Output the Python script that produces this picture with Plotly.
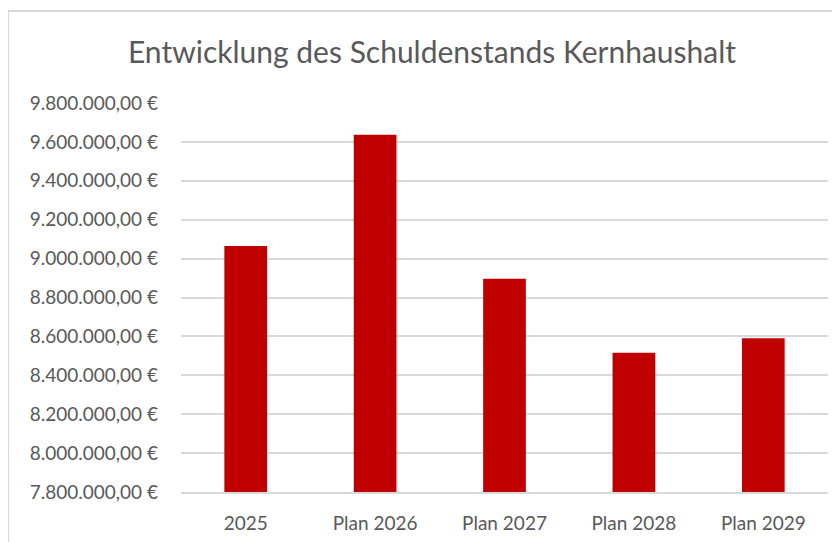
import plotly.graph_objects as go

categories = ["2025", "Plan 2026", "Plan 2027", "Plan 2028", "Plan 2029"]
debt_values = [9065000, 9637000, 8897000, 8516000, 8590000]
y_tickvals = [7800000, 8000000, 8200000, 8400000, 8600000, 8800000,
              9000000, 9200000, 9400000, 9600000, 9800000]


def euro(v):
    s = f"{v:,.2f}".replace(",", "X").replace(".", ",").replace("X", ".")
    return s + "\u00a0€"


y_ticktext = [euro(v) for v in y_tickvals]

FONT = "Lato"
GRAY = "#595959"

# The page body has an 8px margin; size the figure so it fits the 840x542 window.
W, H = 832, 534

fig = go.Figure(go.Bar(
    x=categories, y=debt_values,
    marker=dict(color="#C00000", line=dict(width=0)),
))

fig.update_layout(
    width=W, height=H,
    margin=dict(l=173, r=12, t=95, b=50),
    paper_bgcolor="white", plot_bgcolor="white",
    bargap=0.67,
    showlegend=False,
    title=dict(text="Entwicklung des Schuldenstands Kernhaushalt",
               x=0.5 + 8 / W, xanchor="center", y=1 - 44 / H, yanchor="middle",
               font=dict(family=FONT, size=30, color=GRAY)),
    font=dict(family=FONT, color=GRAY),
    shapes=[dict(type="rect", xref="paper", yref="paper",
                 x0=-173 / 647, x1=1.2, y0=-0.4, y1=1 + 92 / 389,
                 line=dict(color="#D9D9D9", width=2), fillcolor="rgba(0,0,0,0)",
                 layer="below")],
)

fig.update_yaxes(range=[7800000, 9800000], tickvals=y_tickvals, ticktext=y_ticktext,
                 showgrid=True, gridcolor="#D9D9D9", gridwidth=1.5,
                 zeroline=False, showline=False, automargin=False,
                 tickfont=dict(family=FONT, size=19, color=GRAY),
                 ticklabelstandoff=22)
fig.update_xaxes(showline=True, linecolor="#D9D9D9", linewidth=1.5,
                 automargin=False,
                 tickfont=dict(family=FONT, size=19, color=GRAY),
                 ticks="", ticklabelstandoff=13)

fig.write_html("out.html")
